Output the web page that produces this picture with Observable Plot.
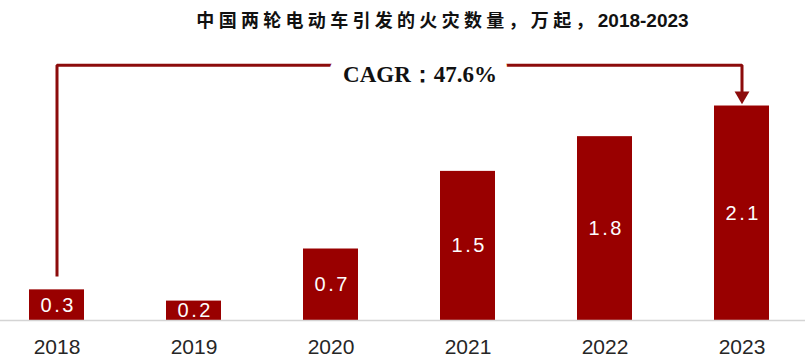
<!DOCTYPE html>
<html>
<head>
<meta charset="utf-8">
<script src="https://cdn.jsdelivr.net/npm/d3@7"></script>
<script src="https://cdn.jsdelivr.net/npm/@observablehq/plot@0.6"></script>
<style>
  html, body { margin: 0; padding: 0; background: #fff; }
  #wrap { width: 805px; height: 361px; overflow: hidden; }
  #title {
    height: 38px; line-height: 38px; box-sizing: border-box;
    padding-left: 80px; text-align: center; white-space: nowrap;
    font-family: "Noto Sans CJK SC", sans-serif; font-weight: bold;
    font-size: 18px; letter-spacing: 4.3px; color: #111;
  }
  #title .num { font-family: "Liberation Sans", Arial, sans-serif; font-size: 19px; letter-spacing: 0; }
</style>
</head>
<body>
<div id="wrap">
  <div id="title">中国两轮电动车引发的火灾数量，万起，<span class="num">2018-2023</span></div>
  <div id="chart"></div>
</div>
<script>
const years = ["2018", "2019", "2020", "2021", "2022", "2023"];
const fires = [0.3, 0.19, 0.7, 1.46, 1.8, 2.1];
const fireLabels = ["0.3", "0.2", "0.7", "1.5", "1.8", "2.1"];
const cagrText = "CAGR：47.6%";

const data = years.map((y, i) => ({year: y, value: fires[i], label: fireLabels[i]}));
const first = data[0], last = data[data.length - 1];
const level = last.value * 1.19;
const bracket = [
  {year: first.year, v: first.value + 0.13},
  {year: first.year, v: level},
  {year: last.year, v: level},
  {year: last.year, v: last.value + 0.12}
];

const lineColor = "#8c0b0b";
const barColor = "#990000";

const chart = Plot.plot({
  width: 805,
  height: 323,
  marginTop: 0,
  marginBottom: 41,
  marginLeft: 1,
  marginRight: 9,
  x: {domain: years, paddingInner: 0.6, paddingOuter: 0.2, label: null},
  y: {domain: [0, 2.761], axis: null},
  style: {fontFamily: "Liberation Sans, Arial, sans-serif", background: "#fff"},
  marks: [
    Plot.barY(data, {x: "year", y: "value", fill: barColor}),
    Plot.ruleY([0], {stroke: "#d4d4d4", strokeWidth: 1.5, insetLeft: -2, insetRight: -10}),
    Plot.axisX({tickSize: 0, tickPadding: 19, fontSize: 21, fill: "#262626",
      fontFamily: "Liberation Sans Narrow, Liberation Sans, Arial, sans-serif"}),
    Plot.text(data, {x: "year", y: d => d.value / 2, text: "label", fill: "#fdfdfd",
      fontSize: 20, dx: 1.25,
      fontFamily: "Liberation Sans, Arial, sans-serif"}),
    Plot.line(bracket, {x: "year", y: "v", stroke: lineColor, strokeWidth: 3,
      strokeLinejoin: "miter", strokeLinecap: "butt", curve: "linear"}),
    Plot.dot([bracket[3]], {x: "year", y: "v", symbol: "triangle", r: 5.5,
      fill: lineColor, rotate: 180, dy: 2}),
    Plot.text([{year: years[2], v: level}], {x: "year", y: "v", text: () => cagrText,
      dx: 89, dy: 9, fontSize: 23, fontWeight: "bold", fill: "#111",
      fontFamily: "Liberation Serif, Times New Roman, serif",
      stroke: "#fff", strokeWidth: 30, strokeLinejoin: "round"})
  ]
});
// spaced-out bar labels like the reference
d3.select(chart).selectAll("g").filter(function () {
  return this.getAttribute("fill") === "#fdfdfd";
}).style("letter-spacing", "2.5px");
document.getElementById("chart").appendChild(chart);
</script>
</body>
</html>
